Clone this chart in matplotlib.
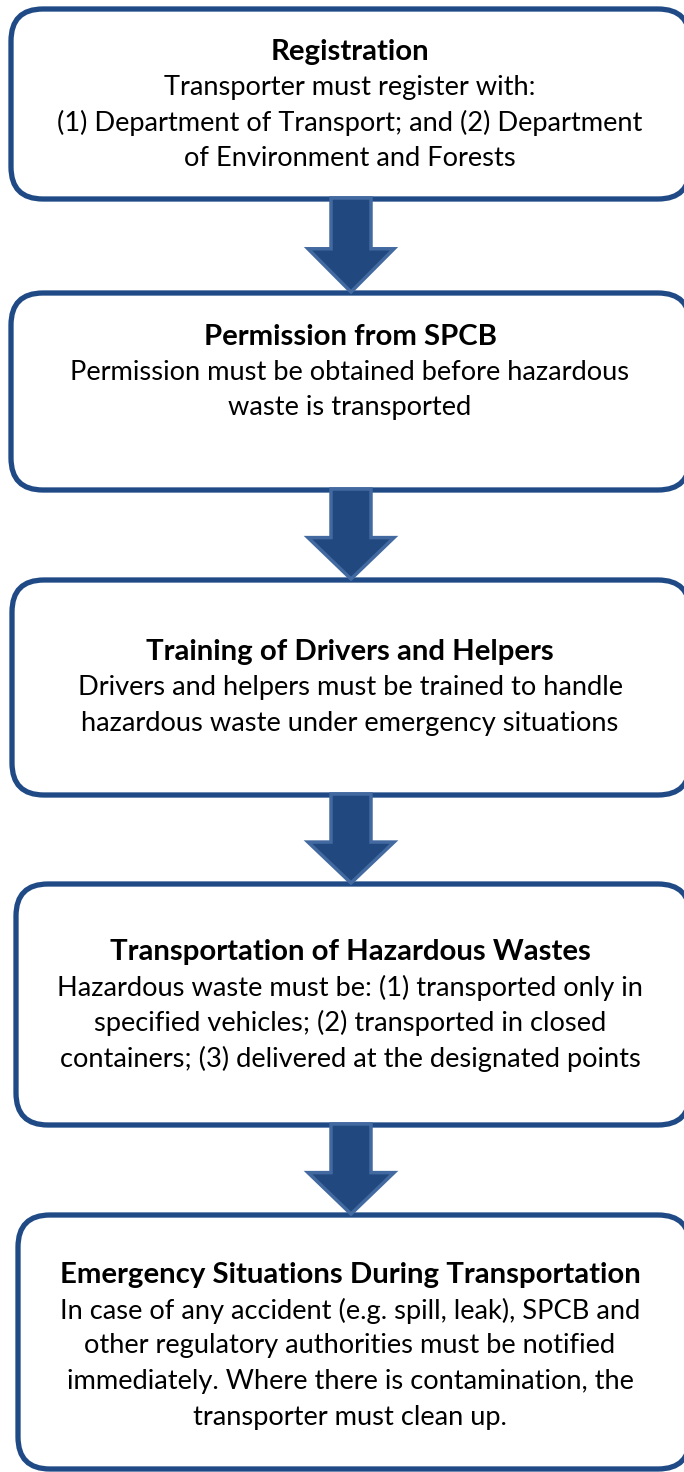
import matplotlib
matplotlib.use("Agg")
import matplotlib.pyplot as plt
from matplotlib.patches import FancyBboxPatch, Polygon

plt.rcParams['font.family'] = ['Lato', 'DejaVu Sans']

titles = [
    "Registration",
    "Permission from SPCB",
    "Training of Drivers and Helpers",
    "Transportation of Hazardous Wastes",
    "Emergency Situations During Transportation",
]
bodies = [
    ["Transporter must register with:",
     "(1) Department of Transport; and (2) Department",
     "of Environment and Forests"],
    ["Permission must be obtained before hazardous",
     "waste is transported"],
    ["Drivers and helpers must be trained to handle",
     "hazardous waste under emergency situations"],
    ["Hazardous waste must be: (1) transported only in",
     "specified vehicles; (2) transported in closed",
     "containers; (3) delivered at the designated points"],
    ["In case of any accident (e.g. spill, leak), SPCB and",
     "other regulatory authorities must be notified",
     "immediately. Where there is contamination, the",
     "transporter must clean up."],
]

# layout (pixels)
box_top = [9, 293, 580, 884, 1215]
box_bot = [199, 490, 795, 1125, 1469]
box_left = [11, 11, 12, 16, 18]
box_right = 690
title_y = [52, 337, 652, 952, 1275]
line_gap = 35.5
radius = 32

W, H = 684, 1472
fig = plt.figure(figsize=(W / 100, H / 100), dpi=100)
ax = fig.add_axes([0, 0, 1, 1])
ax.set_xlim(0, W)
ax.set_ylim(H, 0)
ax.axis('off')

edge_col = '#1F4A85'
arrow_fill = '#22497F'
arrow_edge = '#4269A0'

for i in range(len(titles)):
    x0, y0 = box_left[i], box_top[i]
    w, h = box_right - x0, box_bot[i] - y0
    p = FancyBboxPatch((x0 + radius, y0 + radius), w - 2 * radius, h - 2 * radius,
                       boxstyle=f"round,pad={radius}", fc='white', ec=edge_col,
                       lw=3.8, zorder=2)
    ax.add_patch(p)
    cx = 350
    ax.text(cx, title_y[i], titles[i], ha='center', va='center',
            fontsize=21.2, fontweight='bold', color='black', zorder=3)
    for j, line in enumerate(bodies[i]):
        ax.text(cx, title_y[i] + line_gap * (j + 1), line, ha='center', va='center',
                fontsize=19.6, color='black', zorder=3)

# arrows between boxes
for i in range(len(titles) - 1):
    ys = box_bot[i] - 1
    ye = box_top[i + 1] - 1
    xc = 351
    sw = 20
    hw = 43
    hy = ys + (ye - ys) * 0.54
    pts = [(xc - sw, ys), (xc + sw, ys), (xc + sw, hy), (xc + hw, hy),
           (xc, ye), (xc - hw, hy), (xc - sw, hy)]
    ax.add_patch(Polygon(pts, closed=True, fc=arrow_fill, ec=arrow_edge,
                         lw=2.5, joinstyle='miter', zorder=4))

fig.savefig('out.png', dpi=100)
